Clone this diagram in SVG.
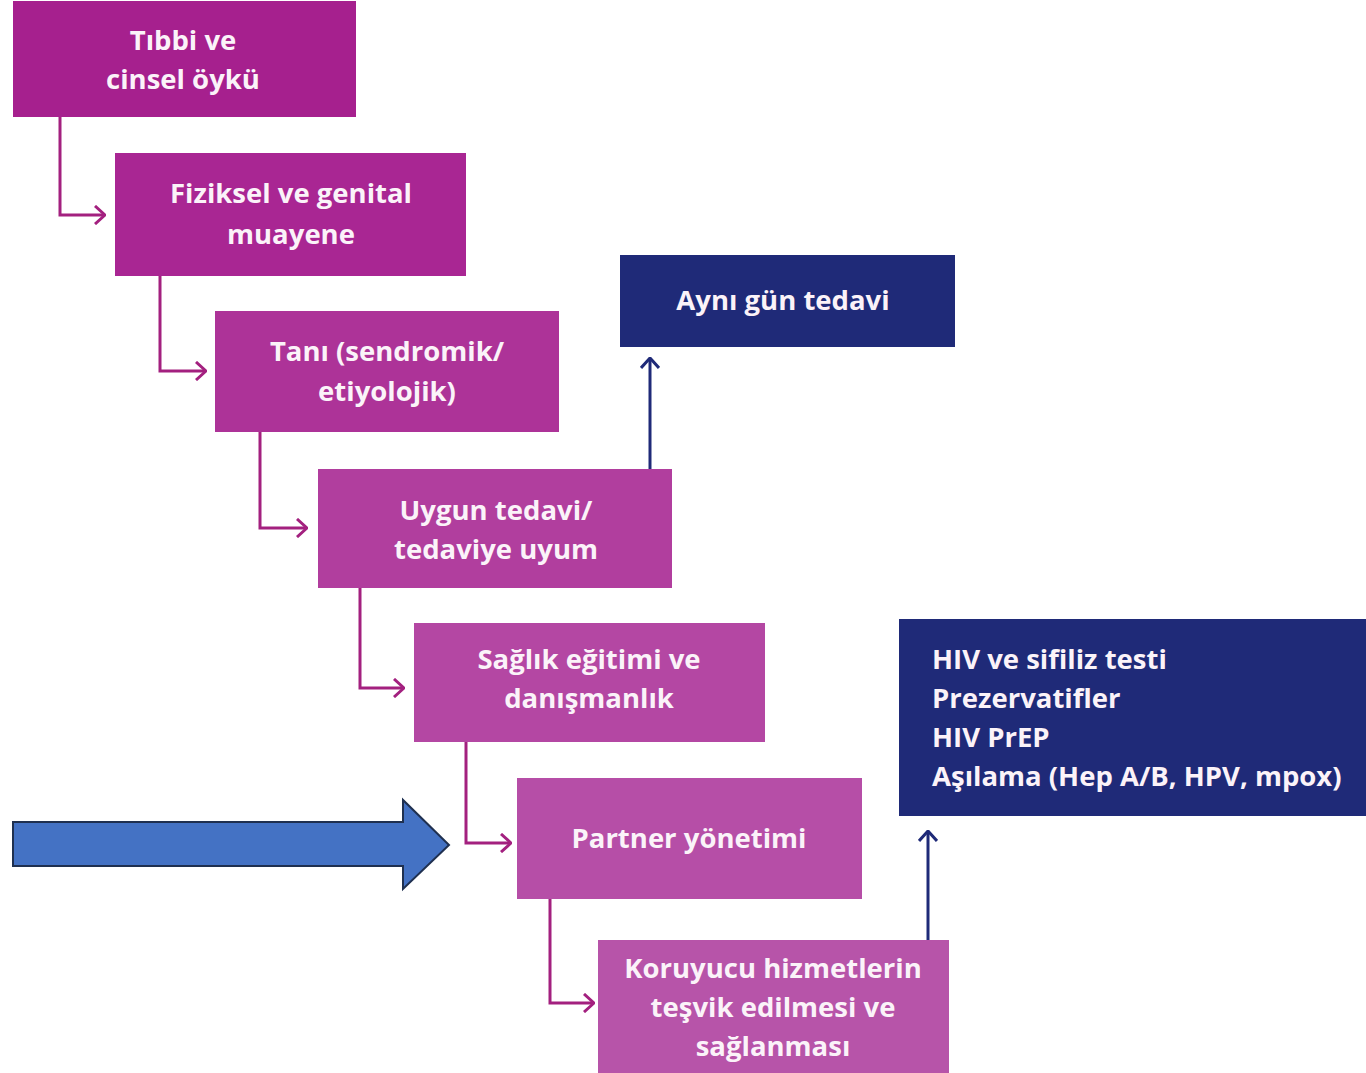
<svg xmlns="http://www.w3.org/2000/svg" width="1366" height="1073" viewBox="0 0 1366 1073">
<style>
.t{font-family:"Open Sans","Noto Sans","DejaVu Sans",sans-serif;font-weight:700;font-size:27.5px;fill:#FBF3F9;text-anchor:middle}
.tl{text-anchor:start}
.c{fill:none;stroke:#A3207F;stroke-width:3}
.n{fill:none;stroke:#1F2A78;stroke-width:3}
</style>
<defs>
<marker id="am" viewBox="0 0 12 20" refX="11" refY="10" markerWidth="12" markerHeight="20" markerUnits="userSpaceOnUse" orient="auto">
<path d="M1,1 L11,10 L1,19" fill="none" stroke="#A3207F" stroke-width="3"/>
</marker>
<marker id="an" viewBox="0 0 12 20" refX="11" refY="10" markerWidth="12" markerHeight="20" markerUnits="userSpaceOnUse" orient="auto">
<path d="M1,1 L11,10 L1,19" fill="none" stroke="#1F2A78" stroke-width="3"/>
</marker>
</defs>
<rect width="1366" height="1073" fill="#fff"/>
<g id="connectors">
<path class="c" d="M60,117 V215 H105" marker-end="url(#am)"/>
<path class="c" d="M160,276 V371 H206" marker-end="url(#am)"/>
<path class="c" d="M260,432 V528 H307" marker-end="url(#am)"/>
<path class="c" d="M360,588 V688 H404" marker-end="url(#am)"/>
<path class="c" d="M466,742 V843 H511" marker-end="url(#am)"/>
<path class="c" d="M550,899 V1003 H594" marker-end="url(#am)"/>
<path class="n" d="M650,469 V358" marker-end="url(#an)"/>
<path class="n" d="M928,940 V831" marker-end="url(#an)"/>
</g>
<g id="n1"><rect x="13" y="1" width="343" height="116" fill="#A6208E"/>
<text class="t" x="183" y="50">Tıbbi ve</text><text class="t" x="183" y="89">cinsel öykü</text></g>
<g id="n2"><rect x="115" y="153" width="351" height="123" fill="#A92693"/>
<text class="t" x="291" y="203">Fiziksel ve genital</text><text class="t" x="291" y="244">muayene</text></g>
<g id="n3"><rect x="215" y="311" width="344" height="121" fill="#AD3398"/>
<text class="t" x="387" y="361">Tanı (sendromik/</text><text class="t" x="387" y="401">etiyolojik)</text></g>
<g id="n4"><rect x="318" y="469" width="354" height="119" fill="#B13E9E"/>
<text class="t" x="496" y="520">Uygun tedavi/</text><text class="t" x="496" y="559">tedaviye uyum</text></g>
<g id="n5"><rect x="414" y="623" width="351" height="119" fill="#B447A3"/>
<text class="t" x="589" y="669">Sağlık eğitimi ve</text><text class="t" x="589" y="708">danışmanlık</text></g>
<g id="n6"><rect x="517" y="778" width="345" height="121" fill="#B64EA7"/>
<text class="t" x="689" y="848">Partner yönetimi</text></g>
<g id="n7"><rect x="598" y="940" width="351" height="133" fill="#B754A9"/>
<text class="t" x="773" y="978">Koruyucu hizmetlerin</text><text class="t" x="773" y="1017">teşvik edilmesi ve</text><text class="t" x="773" y="1056">sağlanması</text></g>
<g id="n8"><rect x="620" y="255" width="335" height="92" fill="#1F2A78"/>
<text class="t" x="783" y="310">Aynı gün tedavi</text></g>
<g id="n9"><rect x="899" y="619" width="467" height="197" fill="#1F2A78"/>
<text class="t tl" x="932" y="669">HIV ve sifiliz testi</text>
<text class="t tl" x="932" y="708">Prezervatifler</text>
<text class="t tl" x="932" y="747">HIV PrEP</text>
<text class="t tl" x="932" y="786">Aşılama (Hep A/B, HPV, mpox)</text></g>
<g id="bigarrow"><path d="M13,822 H403 V800 L449,845 L403,889 V866 H13 Z" fill="#4472C4" stroke="#1F3050" stroke-width="2"/></g>
</svg>
